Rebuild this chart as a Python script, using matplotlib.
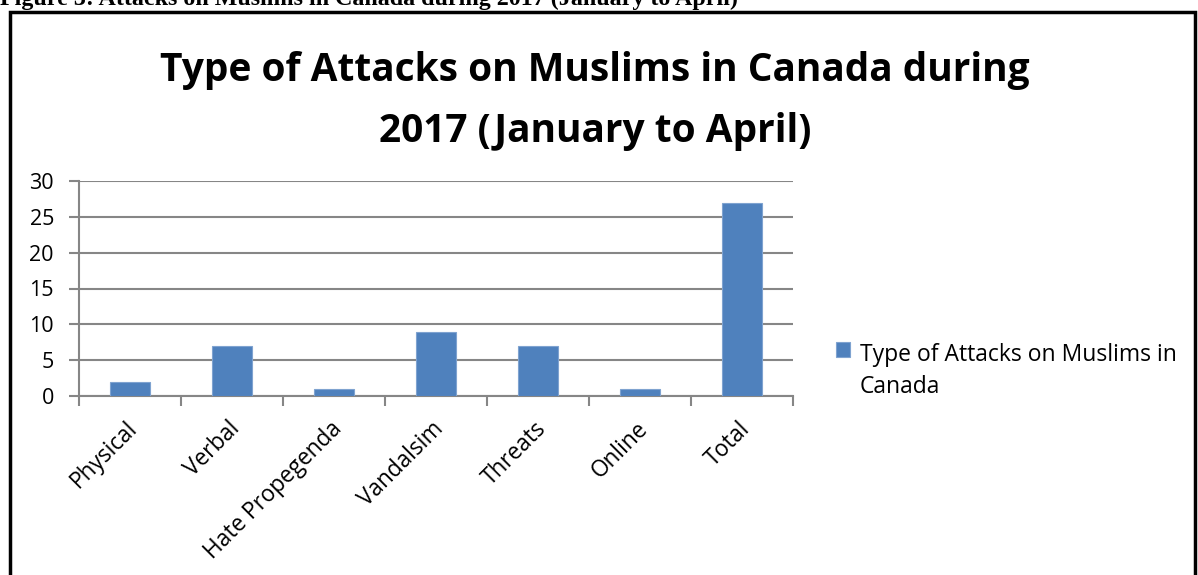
import numpy as np
import matplotlib.pyplot as plt
from matplotlib.patches import Rectangle
from matplotlib.container import BarContainer
from matplotlib.legend_handler import HandlerPatch, update_from_first_child

# data
categories = ["Physical", "Verbal", "Hate Propegenda", "Vandalsim", "Threats", "Online", "Total"]
attacks = [2, 7, 1, 9, 7, 1, 27]
yticks = [0, 5, 10, 15, 20, 25, 30]
series_name = "Type of Attacks on Muslims in\nCanada"

plt.rcParams['font.family'] = ['Open Sans', 'DejaVu Sans']
W, H = 1198, 575
fig = plt.figure(figsize=(W / 100, H / 100), dpi=100)

# caption above the boxed chart (its top is cut off in the source)
fig.text(0, 1 - 5 / H, "Figure 3: Attacks on Muslims in Canada during 2017 (January to April)",
         family='Liberation Serif', weight='bold', fontsize=17.3, ha='left', va='baseline')
fig.patches.append(Rectangle((10 / W, -0.1), (1195 - 10) / W, 1.1 - 11.5 / H,
                             transform=fig.transFigure, fill=False, ec='black', lw=2.5))

ax = fig.add_axes([79 / W, 1 - 396 / H, (793 - 79) / W, (396 - 181) / H])
x = np.arange(len(categories))
ax.bar(x, attacks, width=0.4, color='#4F81BD', ec='#7FA3D0', lw=0.8,
       label=series_name, zorder=3)
ax.set_xlim(-0.5, len(categories) - 0.5)
ax.set_ylim(0, 30)
ax.set_yticks(yticks)
ax.set_yticklabels([str(v) for v in yticks], fontsize=15.5)
ax.yaxis.grid(True, color='#868686', lw=1.5, zorder=0)
ax.set_axisbelow(True)
for s in ['top', 'right']:
    ax.spines[s].set_visible(False)
for s in ['left', 'bottom']:
    ax.spines[s].set_color('#868686')
    ax.spines[s].set_linewidth(1.5)
ax.tick_params(axis='y', length=7, width=1.5, color='#868686', pad=11)
ax.set_xticks(np.arange(-0.5, len(categories)))
ax.set_xticklabels([])
ax.tick_params(axis='x', length=7, width=1.5, color='#868686')
for xi, lab in zip(x, categories):
    ax.annotate(lab, xy=(xi, 0), xycoords=('data', 'axes fraction'),
                xytext=(-3, -15), textcoords='offset points',
                rotation=45, ha='right', va='top', rotation_mode='anchor', fontsize=16.3)

fig.text(0.5 * (163 + 1027) / W, 1 - 101 / H,
         "Type of Attacks on Muslims in Canada during\n2017 (January to April)",
         ha='center', va='center', fontsize=28, weight='bold', linespacing=1.72)


# legend square sits beside the first text line, as in the source
def raised_square(legend, orig_handle, xdescent, ydescent, width, height, fontsize):
    return Rectangle((-xdescent, -ydescent + 16), width, height)


leg = ax.legend(loc='center left', bbox_to_anchor=(836 / W, 1 - 371 / H),
                bbox_transform=fig.transFigure, frameon=False, fontsize=16.5,
                borderpad=0, borderaxespad=0, handlelength=0.6, handleheight=0.6,
                handletextpad=0.45,
                handler_map={BarContainer: HandlerPatch(patch_func=raised_square,
                                                        update_func=update_from_first_child)})
for t in leg.get_texts():
    t.set_linespacing(1.45)

fig.savefig("out.png", dpi=100)
